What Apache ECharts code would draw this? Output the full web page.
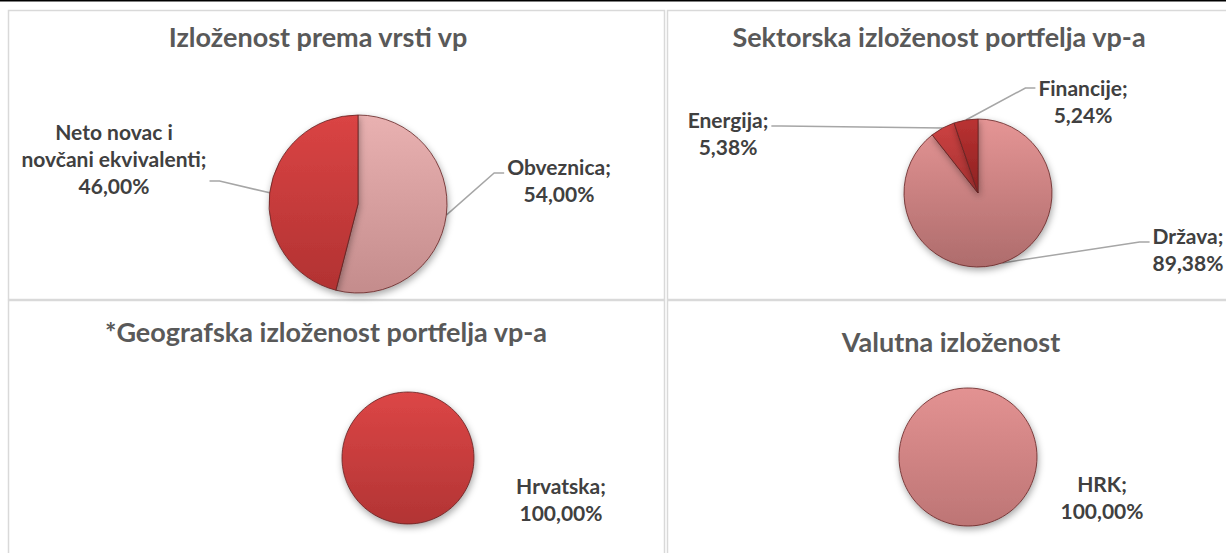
<!DOCTYPE html>
<html>
<head>
<meta charset="utf-8">
<script src="https://cdn.jsdelivr.net/npm/echarts@6/dist/echarts.min.js"></script>
<style>
  html, body { margin: 0; padding: 0; background: #ffffff; }
  #chart { width: 1226px; height: 553px; }
</style>
</head>
<body>
<div id="chart"></div>
<script>
// ---------- data ----------
const chartTitles = [
  'Izloženost prema vrsti vp',
  'Sektorska izloženost portfelja vp-a',
  '*Geografska izloženost portfelja vp-a',
  'Valutna izloženost'
];
const typeCategories = ['Obveznica', 'Neto novac i\nnovčani ekvivalenti'];
const typeValues = [54.00, 46.00];
const sectorCategories = ['Država', 'Energija', 'Financije'];
const sectorValues = [89.38, 5.38, 5.24];
const geoCategories = ['Hrvatska'];
const geoValues = [100.00];
const currencyCategories = ['HRK'];
const currencyValues = [100.00];

// ---------- layout / style ----------
const FONT = 'Lato, "Open Sans", sans-serif';
const titleLayout = [
  { x: 318, y: 36 },
  { x: 939, y: 36 },
  { x: 326, y: 331 },
  { x: 951, y: 341 }
];
const pieLayout = [
  { center: [358, 204], radius: 89 },
  { center: [978, 193], radius: 74 },
  { center: [408, 458], radius: 66 },
  { center: [968, 457], radius: 69 }
];
// label centres per series / data index, and where the guide line meets the label (dy)
const labelLayoutPos = [
  [{ x: 559, y: 180, lineDy: -7 }, { x: 114, y: 158, lineDy: 23 }],
  [{ x: 1188, y: 249, lineDy: -7 }, { x: 728, y: 133, lineDy: -7 }, { x: 1083, y: 101, lineDy: -13 }],
  [{ x: 561, y: 499, lineDy: 0 }],
  [{ x: 1102, y: 497, lineDy: 0 }]
];
const sliceColors = [
  [['#e9b1b1', '#c48c8c'], ['#da4444', '#b23232']],
  [['#e59595', '#ae6c6c'], ['#cc4242', '#a53030'], ['#ba3232', '#8c2121']],
  [['#dc4646', '#b23434']],
  [['#e39292', '#bd7575']]
];

function grad(c) {
  return new echarts.graphic.LinearGradient(0, 0, 0, 1, [
    { offset: 0, color: c[0] },
    { offset: 1, color: c[1] }
  ]);
}
function fmt(p) {
  return p.name + ';\n' + Number(p.value).toFixed(2).replace('.', ',') + '%';
}

function makeSeries(idx, cats, vals, showLine) {
  return {
    type: 'pie',
    center: pieLayout[idx].center,
    radius: pieLayout[idx].radius,
    startAngle: 90,
    clockwise: true,
    avoidLabelOverlap: false,
    animation: false,
    emphasis: { disabled: true },
    itemStyle: {
      borderColor: 'rgba(100,35,35,0.8)',
      borderWidth: 1,
      shadowBlur: 7,
      shadowOffsetX: 1,
      shadowOffsetY: 3,
      shadowColor: 'rgba(0,0,0,0.35)'
    },
    label: {
      show: true,
      position: 'outside',
      formatter: fmt,
      color: '#404040',
      fontFamily: FONT,
      fontWeight: 'bold',
      fontSize: 21,
      lineHeight: 27,
      align: 'center'
    },
    labelLine: {
      show: showLine,
      length: 20,
      length2: 9,
      lineStyle: { color: '#a6a6a6', width: 1.5 }
    },
    labelLayout: function (p) {
      const pos = labelLayoutPos[idx][p.dataIndex];
      const out = { x: pos.x, y: pos.y, align: 'center', verticalAlign: 'middle' };
      if (showLine && p.labelLinePoints && p.labelLinePoints.length) {
        const a = p.labelLinePoints[0];
        const half = p.labelRect.width / 2;
        const side = a[0] < pos.x ? -1 : 1;
        const ex = pos.x + side * (half + 3);
        const ly = pos.y + pos.lineDy;
        out.labelLinePoints = [[a[0], a[1]], [ex + side * 10, ly], [ex, ly]];
      }
      return out;
    },
    data: cats.map((c, i) => ({
      name: c,
      value: vals[i],
      itemStyle: { color: grad(sliceColors[idx][i]) }
    }))
  };
}

const chart = echarts.init(document.getElementById('chart'), null, { renderer: 'svg' });
const option = {
  backgroundColor: '#ffffff',
  title: chartTitles.map((t, i) => ({
    text: t,
    left: titleLayout[i].x,
    top: titleLayout[i].y,
    textAlign: 'center',
    textVerticalAlign: 'middle',
    padding: 0,
    textStyle: { fontFamily: FONT, fontWeight: 'bold', fontSize: 27, color: '#595959' }
  })),
  graphic: [
    { type: 'rect', shape: { x: 0, y: 0, width: 1226, height: 1.5 }, style: { fill: '#000000' }, silent: true },
    { type: 'rect', shape: { x: 8.5, y: 10.5, width: 656, height: 289 }, style: { fill: 'none', stroke: '#d9d9d9', lineWidth: 1.5 }, silent: true, z: -1 },
    { type: 'rect', shape: { x: 8.5, y: 300.5, width: 656, height: 270 }, style: { fill: 'none', stroke: '#d9d9d9', lineWidth: 1.5 }, silent: true, z: -1 },
    { type: 'rect', shape: { x: 667.5, y: 10.5, width: 620, height: 289 }, style: { fill: 'none', stroke: '#d9d9d9', lineWidth: 1.5 }, silent: true, z: -1 },
    { type: 'rect', shape: { x: 667.5, y: 300.5, width: 620, height: 270 }, style: { fill: 'none', stroke: '#d9d9d9', lineWidth: 1.5 }, silent: true, z: -1 }
  ],
  series: [
    makeSeries(0, typeCategories, typeValues, true),
    makeSeries(1, sectorCategories, sectorValues, true),
    makeSeries(2, geoCategories, geoValues, false),
    makeSeries(3, currencyCategories, currencyValues, false)
  ]
};
chart.setOption(option);
</script>
</body>
</html>
